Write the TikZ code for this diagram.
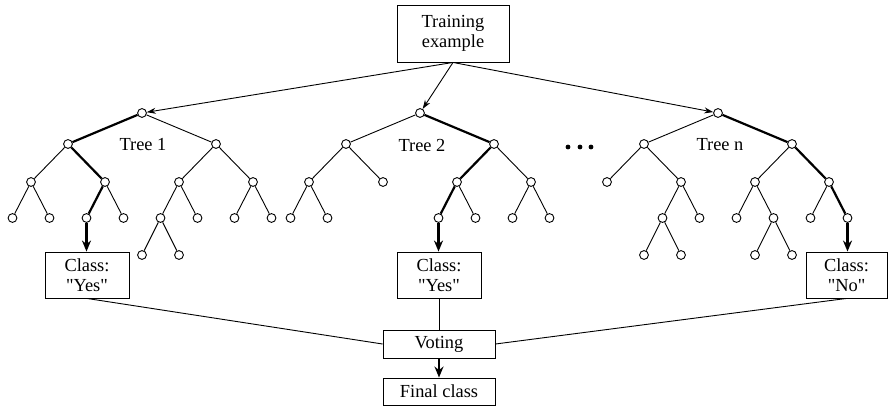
\documentclass[tikz,border=0pt]{standalone}
\usepackage{fontspec}
\setmainfont{Liberation Serif}
\usetikzlibrary{arrows.meta}

\tikzset{
  leaf/.style={draw, circle, fill=white, inner sep=0pt, minimum size=4.4pt, line width=0.45pt},
  box/.style={draw, align=center, inner sep=0pt, line width=0.45pt},
  edge/.style={line width=0.45pt},
  hot/.style={line width=1.1pt},
}

\begin{document}
\begin{tikzpicture}[x=0.5pt, y=-0.5pt, font=\fontsize{9.2}{10}\selectfont]
    \useasboundingbox (0,0) rectangle (888,406);

    % input and output boxes
    \node[box, minimum width=56pt, minimum height=28.5pt] (train) at (453,33.5) {Training\\example};
    \node[box, minimum width=42pt, minimum height=23pt] (cls1) at (87,275) {Class:\\\textquotedbl Yes\textquotedbl};
    \node[box, minimum width=42pt, minimum height=23pt] (cls2) at (439,275) {Class:\\\textquotedbl Yes\textquotedbl};
    \node[box, minimum width=40.5pt, minimum height=23pt] (cls3) at (846.5,275) {Class:\\\textquotedbl No\textquotedbl};
    \node[box, minimum width=56pt, minimum height=14pt] (vote) at (439,344) {Voting};
    \node[box, minimum width=56pt, minimum height=13.5pt] (final) at (439,391.5) {Final class};

    % tree 1
    \foreach \n/\x/\y in {a/142/113, a1/68/144, a2/216/144,
        a11/31/182, a12/105/182, a21/179/182, a22/253/182,
        a111/12.5/218, a112/49.5/218, a121/86.5/218, a122/123.5/218,
        a211/160.5/218, a212/197.5/218, a221/234.5/218, a222/271.5/218,
        a2111/142/255, a2112/179/255}
      \node[leaf] (\n) at (\x,\y) {};
    \foreach \p/\q in {a/a2, a1/a11, a2/a21, a2/a22, a11/a111, a11/a112, a12/a122,
        a21/a211, a21/a212, a22/a221, a22/a222, a211/a2111, a211/a2112}
      \draw[edge] (\p) -- (\q);
    \draw[hot] (a) -- (a1) -- (a12) -- (a121);
    \node (lab1) at (143,145) {Tree 1};

    % tree 2
    \foreach \n/\x/\y in {b/420/113, b1/346/144, b2/494/144,
        b11/309/182, b12/383/182, b21/457/182, b22/531/182,
        b111/290.5/218, b112/327.5/218, b211/438.5/218, b212/475.5/218,
        b221/512.5/218, b222/549.5/218}
      \node[leaf] (\n) at (\x,\y) {};
    \foreach \p/\q in {b/b1, b1/b11, b1/b12, b11/b111, b11/b112,
        b2/b22, b21/b212, b22/b221, b22/b222}
      \draw[edge] (\p) -- (\q);
    \draw[hot] (b) -- (b2) -- (b21) -- (b211);
    \node (lab2) at (422,145) {Tree 2};

    % tree n
    \foreach \n/\x/\y in {c/718/113, c1/644/144, c2/792/144,
        c11/607/182, c12/681/182, c21/755/182, c22/829/182,
        c121/662.5/218, c122/699.5/218, c211/736.5/218, c212/773.5/218,
        c221/810.5/218, c222/847.5/218,
        c1211/644/255, c1212/681/255, c2121/755/255, c2122/792/255}
      \node[leaf] (\n) at (\x,\y) {};
    \foreach \p/\q in {c/c1, c1/c11, c1/c12, c12/c121, c12/c122, c2/c21,
        c21/c211, c21/c212, c22/c221, c121/c1211, c121/c1212, c212/c2121, c212/c2122}
      \draw[edge] (\p) -- (\q);
    \draw[hot] (c) -- (c2) -- (c22) -- (c222);
    \node (labn) at (720,145) {Tree n};

    % dots between trees
    \foreach \x in {568,580,591}
      \fill (\x,147) circle (2.4);

    % connectors
    \foreach \r in {a,b,c}
      \draw[edge, -{Stealth[length=4.5pt, width=3pt]}] (train.south) -- (\r);
    \draw[hot, -{Stealth[length=5.5pt, width=4.5pt]}] (a121) -- (a121 |- cls1.north);
    \draw[hot, -{Stealth[length=5.5pt, width=4.5pt]}] (b211) -- (b211 |- cls2.north);
    \draw[hot, -{Stealth[length=5.5pt, width=4.5pt]}] (c222) -- (c222 |- cls3.north);
    \draw[edge] (cls1.south) -- (vote.west);
    \draw[edge] (cls2.south) -- (vote.north);
    \draw[edge] (cls3.south) -- (vote.east);
    \draw[hot, -{Stealth[length=5.5pt, width=4.5pt]}] (vote) -- (final);
\end{tikzpicture}
\end{document}
